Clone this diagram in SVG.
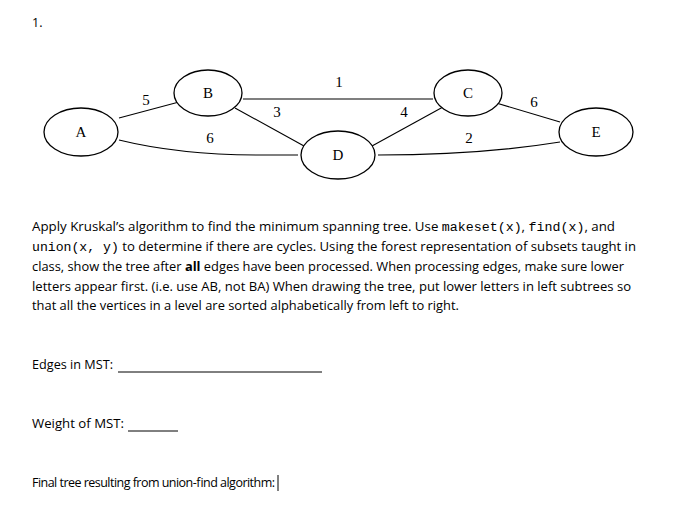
<svg xmlns="http://www.w3.org/2000/svg" width="691" height="531" viewBox="0 0 691 531">
<style>
.n{fill:#fff;stroke:#000;stroke-width:1.3}
.nl{font-family:"Liberation Serif",serif;font-size:15px;text-anchor:middle}
.el{font-family:"Liberation Serif",serif;font-size:15px;text-anchor:middle}
.e{fill:none;stroke:#000;stroke-width:1.1}
.t{font-family:"Open Sans","Liberation Sans",sans-serif;font-size:12.5px}
.m{font-family:"Liberation Mono",monospace;font-size:12.5px}
</style>
<rect width="691" height="531" fill="#fff"/>
<text class="t" x="32" y="27">1.</text>
<g id="edges">
<line class="e" x1="119" y1="118" x2="179" y2="102"/>
<line class="e" x1="243" y1="99" x2="433" y2="99"/>
<line class="e" x1="235" y1="108" x2="304" y2="146"/>
<line class="e" x1="372" y1="146" x2="443" y2="107"/>
<line class="e" x1="493" y1="102" x2="560" y2="122"/>
<path class="e" d="M119,140 Q180,155 260,155 L298,155"/>
<path class="e" d="M378,155 Q480,155 560,142"/>
<text class="el" x="146" y="105">5</text>
<text class="el" x="339" y="87">1</text>
<text class="el" x="277" y="117">3</text>
<text class="el" x="404" y="117">4</text>
<text class="el" x="534" y="107">6</text>
<text class="el" x="210" y="143">6</text>
<text class="el" x="469" y="143">2</text>
</g>
<g id="A"><ellipse class="n" cx="81" cy="132" rx="37" ry="24"/><text class="nl" x="81" y="137">A</text></g>
<g id="B"><ellipse class="n" cx="208" cy="93" rx="34" ry="23"/><text class="nl" x="208" y="98">B</text></g>
<g id="C"><ellipse class="n" cx="468" cy="93" rx="34" ry="23"/><text class="nl" x="468" y="98">C</text></g>
<g id="D"><ellipse class="n" cx="338" cy="155" rx="37" ry="24"/><text class="nl" x="338" y="160">D</text></g>
<g id="E"><ellipse class="n" cx="596" cy="132" rx="37" ry="24"/><text class="nl" x="596" y="137">E</text></g>
<text class="t" x="32" y="231" textLength="583" lengthAdjust="spacingAndGlyphs">Apply Kruskal’s algorithm to find the minimum spanning tree.  Use <tspan class="m">makeset(x)</tspan>, <tspan class="m">find(x)</tspan>, and</text>
<text class="t" x="32" y="251" textLength="604" lengthAdjust="spacingAndGlyphs"><tspan class="m">union(x, y)</tspan> to determine if there are cycles.  Using the forest representation of subsets taught in</text>
<text class="t" x="32" y="271" textLength="592" lengthAdjust="spacingAndGlyphs">class, show the tree after <tspan font-weight="bold">all</tspan> edges have been processed.  When processing edges, make sure lower</text>
<text class="t" x="32" y="291" textLength="599" lengthAdjust="spacingAndGlyphs">letters appear first.  (i.e. use AB, not BA)  When drawing the tree, put lower letters in left subtrees so</text>
<text class="t" x="32" y="310" textLength="427" lengthAdjust="spacingAndGlyphs">that all the vertices in a level are sorted alphabetically from left to right.</text>
<text class="t" x="32" y="369" textLength="81" lengthAdjust="spacingAndGlyphs">Edges in MST:</text>
<line x1="118" y1="372" x2="322" y2="372" stroke="#000" stroke-width="1"/>
<text class="t" x="32" y="428" textLength="92" lengthAdjust="spacingAndGlyphs">Weight of MST:</text>
<line x1="128" y1="431" x2="178" y2="431" stroke="#000" stroke-width="1"/>
<text class="t" x="32" y="487" font-size="10.6" textLength="243" lengthAdjust="spacing">Final tree resulting from union-find algorithm:</text>
<line x1="278" y1="475" x2="278" y2="491" stroke="#000" stroke-width="1"/>
</svg>
